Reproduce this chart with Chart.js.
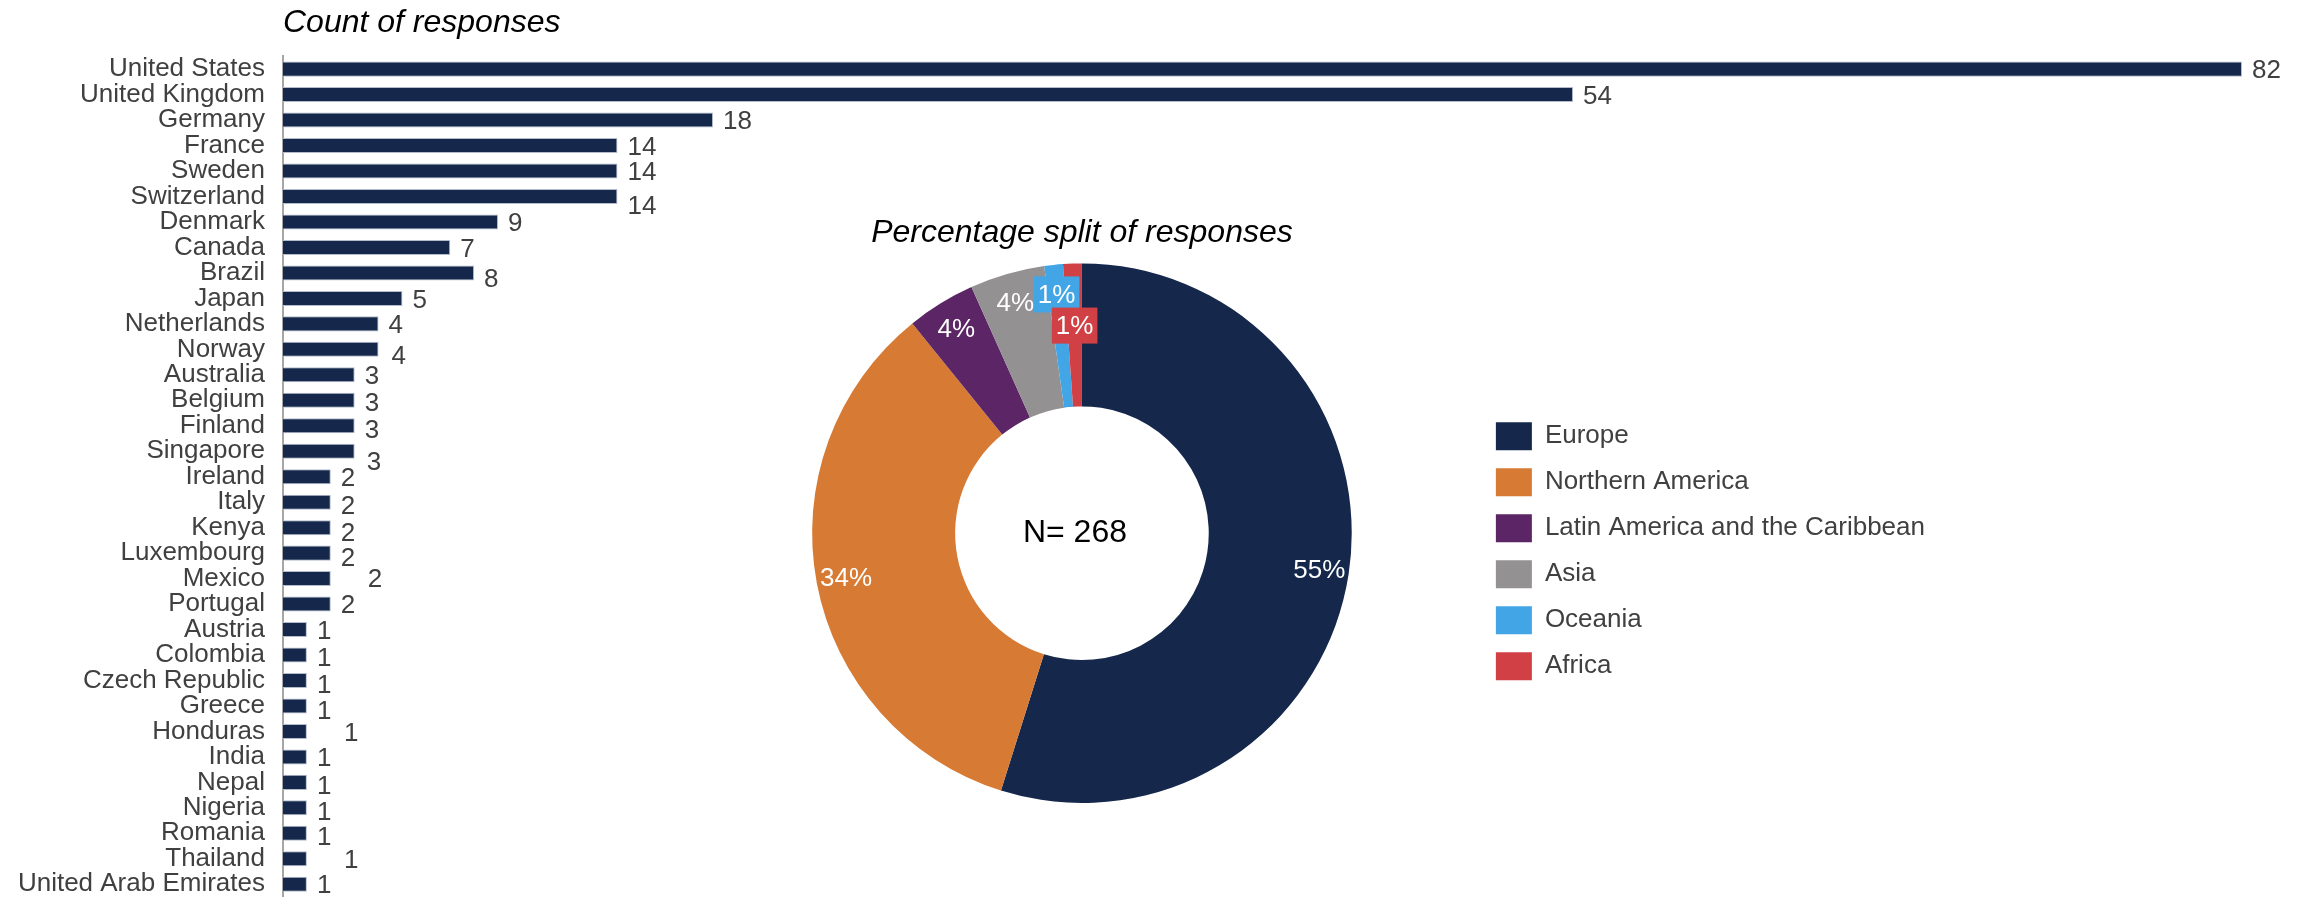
<!DOCTYPE html>
<html>
<head>
<meta charset="utf-8">
<script src="https://cdn.jsdelivr.net/npm/chart.js@4.4.0/dist/chart.umd.min.js"></script>
<style>
    html, body { margin: 0; padding: 0; background: #fff; }
    body { width: 2310px; height: 897px; position: relative; overflow: hidden; }
    #box-barra { position: absolute; left: 0; top: 0; width: 2310px; height: 897px; }
    #box-pizza { position: absolute; left: 686px; top: 214px; width: 1249px; height: 589px; }
</style>
</head>
<body>
<div id="box-barra"><canvas id="f-paises"></canvas></div>
<div id="box-pizza"><canvas id="f-regioes"></canvas></div>
<script>
// dados
const paises = [
    'United States', 'United Kingdom', 'Germany', 'France', 'Sweden', 'Switzerland',
    'Denmark', 'Canada', 'Brazil', 'Japan', 'Netherlands', 'Norway', 'Australia',
    'Belgium', 'Finland', 'Singapore', 'Ireland', 'Italy', 'Kenya', 'Luxembourg',
    'Mexico', 'Portugal', 'Austria', 'Colombia', 'Czech Republic', 'Greece',
    'Honduras', 'India', 'Nepal', 'Nigeria', 'Romania', 'Thailand', 'United Arab Emirates'
];
const respostas = [82, 54, 18, 14, 14, 14, 9, 7, 8, 5, 4, 4, 3, 3, 3, 3, 2, 2, 2, 2, 2, 2,
    1, 1, 1, 1, 1, 1, 1, 1, 1, 1, 1];

const regioes = ['Europe', 'Northern America', 'Latin America and the Caribbean', 'Asia', 'Oceania', 'Africa'];
const respostasRegiao = [147, 92, 11, 12, 3, 3];
const coresRegiao = ['#15284b', '#d77a34', '#5c2566', '#949192', '#41a5e6', '#d04045'];

const fonte = '"Liberation Sans", Arial, sans-serif';
Chart.defaults.font.family = fonte;
Chart.defaults.color = '#404040';

// rotulos de valor nas barras (alguns foram mexidos a mao no original)
const ajusteRotulo = {
    'Switzerland': [0, 10], 'Brazil': [0, 7], 'Norway': [3, 7], 'Belgium': [0, 4],
    'Finland': [0, 5], 'Singapore': [2, 12], 'Italy': [0, 5], 'Kenya': [0, 6],
    'Luxembourg': [0, 6], 'Mexico': [27, 1], 'Colombia': [0, 4], 'Czech Republic': [0, 5],
    'Greece': [0, 6], 'Honduras': [27, 2], 'Nepal': [0, 4], 'Nigeria': [0, 5],
    'Romania': [0, 5], 'Thailand': [27, 2]
};
const rotulosBarra = {
    id: 'rotulosBarra',
    afterDatasetsDraw(chart) {
        const ctx = chart.ctx;
        const meta = chart.getDatasetMeta(0);
        ctx.save();
        ctx.font = '26px ' + fonte;
        ctx.fillStyle = '#404040';
        ctx.textAlign = 'left';
        ctx.textBaseline = 'middle';
        meta.data.forEach((bar, i) => {
            const aj = ajusteRotulo[chart.data.labels[i]] || [0, 2];
            ctx.fillText(chart.data.datasets[0].data[i], bar.x + 10 + aj[0], bar.y + aj[1]);
        });
        ctx.restore();
    }
};

//barra
var b1 = document.getElementById('f-paises').getContext('2d');
const b1_1 = new Chart(b1, {
    type: 'bar',
    data: {
        labels: paises,
        datasets: [{
            label: 'Count of responses',
            data: respostas,
            backgroundColor: '#15284b',
            borderColor: '#b4bccb',
            borderWidth: 1,
            barPercentage: 0.59,
            categoryPercentage: 1
        }]
    },
    options: {
        indexAxis: 'y',
        responsive: true,
        maintainAspectRatio: false,
        animation: false,
        layout: { padding: { top: 0, right: 68, bottom: 0, left: 0 } },
        plugins: {
            legend: { display: false },
            tooltip: { enabled: false },
            title: {
                display: true,
                text: 'Count of responses',
                align: 'start',
                fullSize: false,
                color: '#000',
                font: { size: 32, style: 'italic', weight: 'normal' },
                padding: { top: 4, bottom: 14 }
            }
        },
        scales: {
            x: { display: false, min: 0, max: 82 },
            y: {
                grid: { display: false, drawTicks: false },
                border: { display: true, color: '#a6a6a6', width: 2 },
                ticks: { color: '#404040', font: { size: 26 }, padding: 18, autoSkip: false },
                afterFit(scale) {
                    scale.width = 283;
                    // sem folga extra em cima/embaixo, as barras vao ate o fim
                    scale.paddingTop = 0;
                    scale.paddingBottom = 0;
                }
            }
        }
    },
    plugins: [rotulosBarra]
});

// rotulos de % e o N no meio da rosca
const rotulosPizza = {
    id: 'rotulosPizza',
    afterDatasetsDraw(chart) {
        const ctx = chart.ctx;
        const ds = chart.data.datasets[0];
        const total = ds.data.reduce((a, b) => a + b, 0);
        const meta = chart.getDatasetMeta(0);
        let cx = 0, cy = 0;
        ctx.save();
        ctx.font = '26px ' + fonte;
        ctx.textAlign = 'center';
        ctx.textBaseline = 'middle';
        meta.data.forEach((arc, i) => {
            const p = arc.getProps(['x', 'y', 'startAngle', 'endAngle', 'outerRadius'], true);
            cx = p.x; cy = p.y;
            const meio = (p.startAngle + p.endAngle) / 2;
            const fatia = p.endAngle - p.startAngle;
            const r = p.outerRadius * (i === ds.data.length - 1 ? 0.77 : 0.89);
            const x = p.x + Math.cos(meio) * r;
            const y = p.y + Math.sin(meio) * r;
            const txt = Math.round(ds.data[i] / total * 100) + '%';
            if (fatia < 0.1) {
                const w = ctx.measureText(txt).width + 8;
                ctx.fillStyle = ds.backgroundColor[i];
                ctx.fillRect(x - w / 2, y - 18, w, 36);
            }
            ctx.fillStyle = '#fff';
            ctx.fillText(txt, x, y + 1);
        });
        ctx.fillStyle = '#000';
        ctx.font = '32px ' + fonte;
        ctx.fillText('N= ' + total, cx - 7, cy);
        ctx.restore();
    }
};

//pizza
var g1 = document.getElementById('f-regioes').getContext('2d');
const g1_1 = new Chart(g1, {
    type: 'doughnut',
    data: {
        labels: regioes,
        datasets: [{
            label: 'Percentage split of responses',
            data: respostasRegiao,
            backgroundColor: coresRegiao,
            borderWidth: 0
        }]
    },
    options: {
        responsive: true,
        maintainAspectRatio: false,
        animation: false,
        cutout: '47%',
        layout: { padding: 0 },
        plugins: {
            tooltip: { enabled: false },
            title: {
                display: true,
                text: 'Percentage split of responses',
                fullSize: false,
                color: '#000',
                font: { size: 32, style: 'italic', weight: 'normal' },
                padding: { top: 0, bottom: 11 }
            },
            legend: {
                position: 'right',
                align: 'center',
                fullSize: false,
                title: { display: true, text: '', padding: 0, font: { size: 36, lineHeight: 1 } },
                labels: {
                    boxWidth: 36,
                    boxHeight: 28,
                    padding: 18,
                    color: '#404040',
                    font: { size: 26 }
                }
            }
        }
    },
    plugins: [rotulosPizza]
});
</script>
</body>
</html>
